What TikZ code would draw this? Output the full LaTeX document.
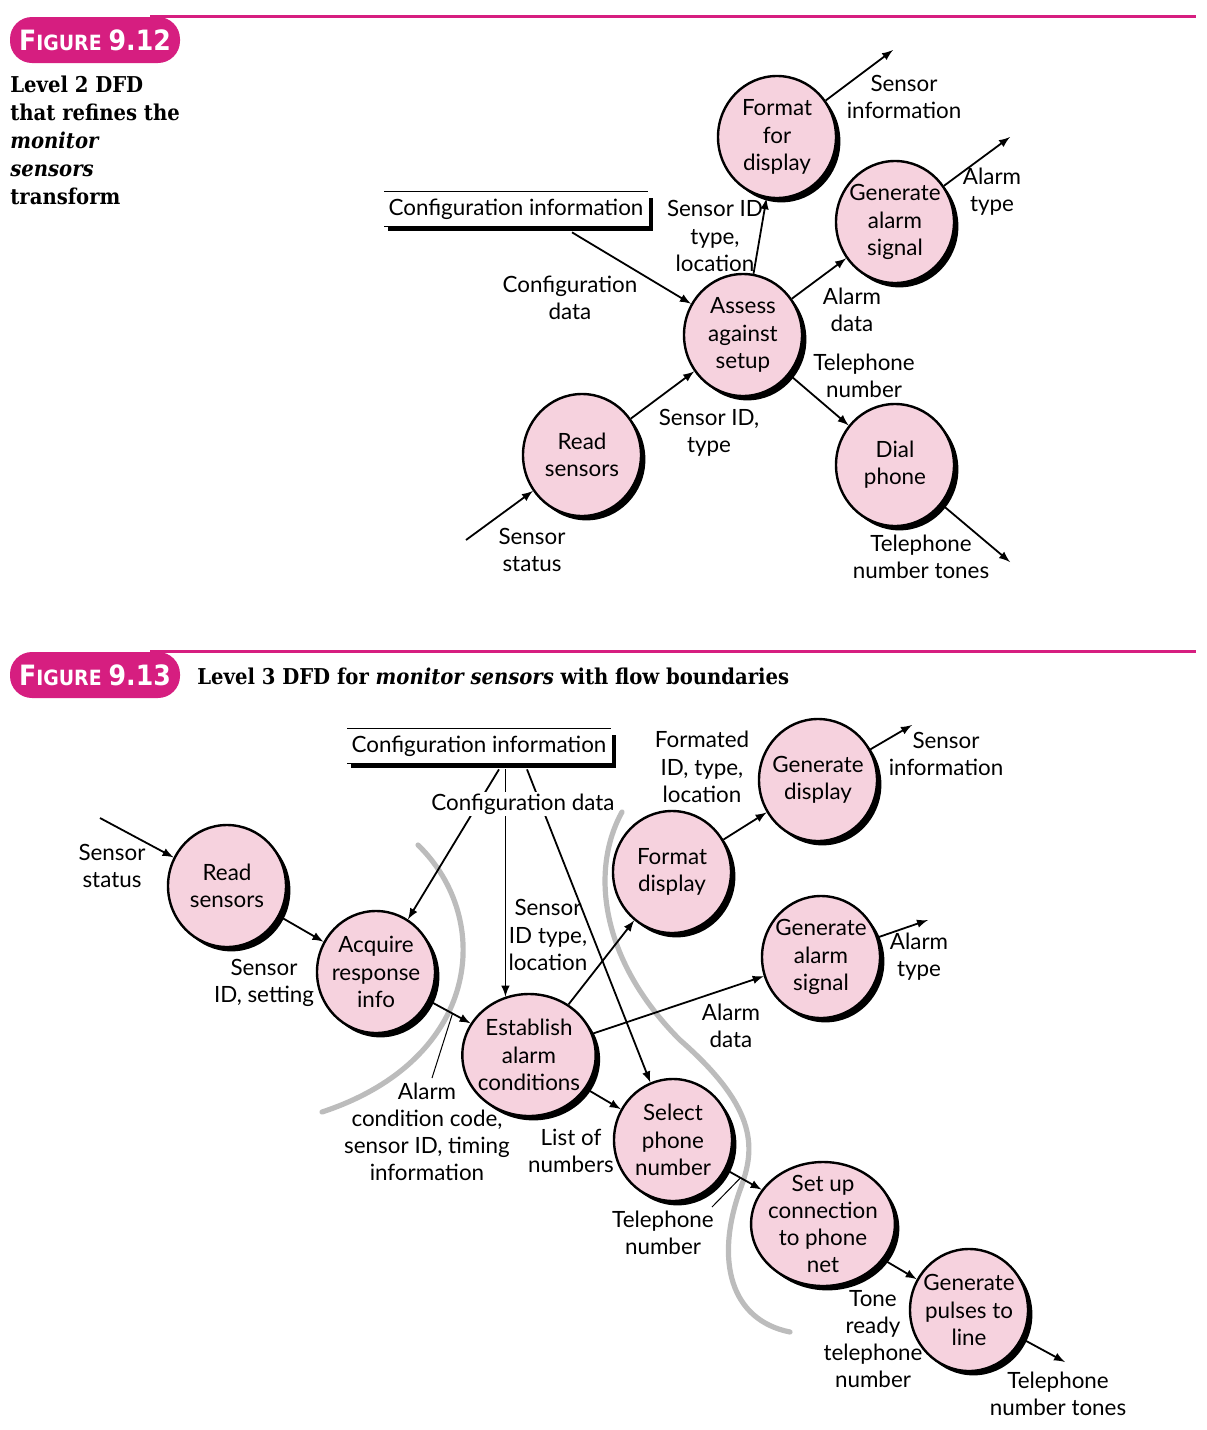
\documentclass[tikz,border=0pt]{standalone}
\usepackage{fontspec}
\setmainfont{Lato}
\newfontfamily\capfont{DejaVu Serif Condensed}[BoldFont={DejaVu Serif Condensed Bold},BoldItalicFont={DejaVu Serif Condensed Bold Italic}]
\newfontfamily\tagfont{DejaVu Sans Condensed}[BoldFont={DejaVu Sans Condensed Bold}]
\usetikzlibrary{shapes.geometric,shadows,calc}

\definecolor{figmagenta}{RGB}{214,30,128}
\definecolor{bubblepink}{RGB}{246,210,222}
\definecolor{boundgrey}{RGB}{188,188,188}

\newcommand{\figno}[1]{\tagfont\bfseries{\fontsize{14}{14}\selectfont F}{\fontsize{10.5}{10.5}\selectfont IGURE}\ {\fontsize{14}{14}\selectfont #1}}

\tikzset{
  bubble/.style={ellipse, draw, line width=1.2pt, fill=bubblepink, minimum width=59pt,
    minimum height=61pt, inner xsep=-2pt, inner ysep=-4pt, align=center,
    drop shadow={shadow xshift=2.2pt, shadow yshift=-2.2pt, fill=black, opacity=1}},
  flow/.style={-latex, line width=0.9pt},
  lbl/.style={align=center, inner sep=0pt},
  store/.style={inner xsep=2pt, minimum height=15.5pt},
  storeshadow/.style={line width=2.2pt},
  boundary/.style={line width=2.6pt, draw=boundgrey, line cap=round},
  leader/.style={line width=0.5pt},
  headline/.style={line width=1.5pt, draw=figmagenta},
  figtag/.style={fill=figmagenta, text=white, rounded corners=11pt, minimum width=85pt,
    minimum height=23pt, inner sep=0pt},
  caption/.style={font=\capfont\bfseries\fontsize{10.9}{14}\selectfont, inner sep=0pt}
}

\begin{document}
\begin{tikzpicture}[x=0.5pt,y=-0.5pt,font=\fontsize{11.2}{13.6}\selectfont]
\useasboundingbox (0,0) rectangle (1206,1430);

%% Figure 9.12
\draw[headline] (150,16) -- (1196,16);
\node[figtag] (tag12) at (95,40) {\figno{9.12}};
\node[caption, align=left, anchor=west] (cap12) at (10,140)
  {Level 2 DFD\\that refines the\\\textit{monitor}\\\textit{sensors}\\transform};

\node[bubble] (fmt) at (777,137) {Format\\for\\display};
\node[bubble] (genalarm) at (895,222) {Generate\\alarm\\signal};
\node[bubble] (assess) at (743,335) {Assess\\against\\setup};
\node[bubble] (read) at (582,455) {Read\\sensors};
\node[bubble] (dial) at (895,465) {Dial\\phone};

\node[store] (cfg) at (516,209) {Configuration information};
\draw (cfg.north west) -- (cfg.north east);
\draw (cfg.south west) -- (cfg.south east);
\draw[storeshadow] ([xshift=2pt,yshift=-1pt]cfg.south west) -- ([xshift=1.5pt,yshift=-1pt]cfg.south east)
  -- ([xshift=1.5pt,yshift=-3pt]cfg.north east);

\coordinate (st-in) at (466,540);
\coordinate (si-out) at (893,50);
\coordinate (at-out) at (1010,137);
\coordinate (tt-out) at (1010,562);
\draw[flow] (st-in) -- (read);
\draw[flow] (read) -- (assess);
\draw[flow] ([xshift=28pt,yshift=-3pt]cfg.south) -- (assess);
\draw[flow] (assess) -- (fmt);
\draw[flow] (assess) -- (genalarm);
\draw[flow] (assess) -- (dial);
\draw[flow] (fmt) -- (si-out);
\draw[flow] (genalarm) -- (at-out);
\draw[flow] (dial) -- (tt-out);

\node[lbl] (l-sinfo) at (904,97) {Sensor\\information};
\node[lbl] (l-atype) at (992,192) {Alarm\\type};
\node[lbl] (l-sid) at (715,236) {Sensor ID\\type,\\location};
\node[lbl] (l-cdata) at (570,298) {Configuration\\data};
\node[lbl] (l-adata) at (852,310) {Alarm\\data};
\node[lbl] (l-tel) at (864,376) {Telephone\\number};
\node[lbl] (l-sidt) at (709,433) {Sensor ID,\\type};
\node[lbl] (l-sstat) at (532,550) {Sensor\\status};
\node[lbl] (l-tones) at (921,557) {Telephone\\number tones};

%% Figure 9.13
\draw[headline] (150,651) -- (1196,651);
\node[figtag] (tag13) at (95,675) {\figno{9.13}};
\node[caption, anchor=west] (cap13) at (197,676)
  {Level 3 DFD for \textit{monitor sensors} with flow boundaries};

\node[bubble] (readb) at (227,886) {Read\\sensors};
\node[bubble] (acquire) at (376,972) {Acquire\\response\\info};
\node[bubble, minimum width=64pt] (establish) at (529,1055) {Establish\\alarm\\conditions};
\node[bubble] (fmtb) at (672,872) {Format\\display};
\node[bubble] (gendisp) at (818,780) {Generate\\display};
\node[bubble] (genalarmb) at (821,957) {Generate\\alarm\\signal};
\node[bubble] (select) at (673,1140) {Select\\phone\\number};
\node[bubble, minimum width=62pt, minimum height=62pt, inner ysep=-6pt] (setup) at (823,1224) {Set up\\connection\\to phone\\net};
\node[bubble] (pulses) at (969,1310) {Generate\\pulses to\\line};

\node[store] (cfgb) at (479,746) {Configuration information};
\draw (cfgb.north west) -- (cfgb.north east);
\draw (cfgb.south west) -- (cfgb.south east);
\draw[storeshadow] ([xshift=2pt,yshift=-1pt]cfgb.south west) -- ([xshift=1.5pt,yshift=-1pt]cfgb.south east)
  -- ([xshift=1.5pt,yshift=-3pt]cfgb.north east);
\coordinate (cfgb-foot) at ([yshift=-3pt]cfgb.south);

% flow boundaries
\draw[boundary] (418,845) .. controls (495,920) and (480,1060) .. (322,1112);
\draw[boundary] (622,812) .. controls (590,870) and (600,960) .. (680,1040)
  .. controls (760,1110) and (755,1150) .. (740,1190)
  .. controls (715,1260) and (730,1320) .. (790,1332);

\coordinate (ss-in) at (100,818);
\coordinate (si-outb) at (912,725);
\coordinate (at-outb) at (928,920);
\coordinate (tt-outb) at (1065,1362);
\draw[flow] (ss-in) -- (readb);
\draw[flow] (readb) -- (acquire);
\draw[flow] (acquire) -- (establish);
\draw[flow] ([xshift=10pt]cfgb-foot) -- (acquire);
\draw[flow] (establish.112 |- cfgb-foot) -- (establish.112);
\draw[flow] ([xshift=24pt]cfgb-foot) -- (select);
\draw[flow] (establish) -- (fmtb);
\draw[flow] (establish) -- (genalarmb);
\draw[flow] (establish) -- (select);
\draw[flow] (fmtb) -- (gendisp);
\draw[flow] (gendisp) -- (si-outb);
\draw[flow] (genalarmb) -- (at-outb);
\draw[flow] (select) -- (setup);
\draw[flow] (setup) -- (pulses);
\draw[flow] (pulses) -- (tt-outb);

\node[lbl, fill=white, inner sep=1pt] (l-cdatab) at (523,804) {Configuration data};
\node[lbl] (l-sstatb) at (112,866) {Sensor\\status};
\node[lbl] (l-sidset) at (264,983) {Sensor\\ID, setting};
\node[lbl] (l-sidloc) at (548,935) {Sensor\\ID type,\\location};
\node[lbl] (l-fmtid) at (702,767) {Formated\\ID, type,\\location};
\node[lbl] (l-sinfob) at (946,754) {Sensor\\information};
\node[lbl] (l-atypeb) at (919,957) {Alarm\\type};
\node[lbl] (l-adatab) at (731,1026) {Alarm\\data};
\node[lbl] (l-acode) at (427,1132) {Alarm\\condition code,\\sensor ID, timing\\information};
\node[lbl] (l-list) at (571,1151) {List of\\numbers};
\node[lbl] (l-telb) at (663,1233) {Telephone\\number};
\node[lbl] (l-tone) at (873,1339) {Tone\\ready\\telephone\\number};
\node[lbl] (l-tonesb) at (1058,1394) {Telephone\\number tones};

% leaders
\coordinate (acode-foot) at (432,1078);
\coordinate (tel-foot) at (712,1207);
\draw[leader] (acode-foot) -- ($(acquire)!0.5!(establish)$);
\draw[leader] (tel-foot) -- ($(select)!0.45!(setup)$);
\end{tikzpicture}
\end{document}
